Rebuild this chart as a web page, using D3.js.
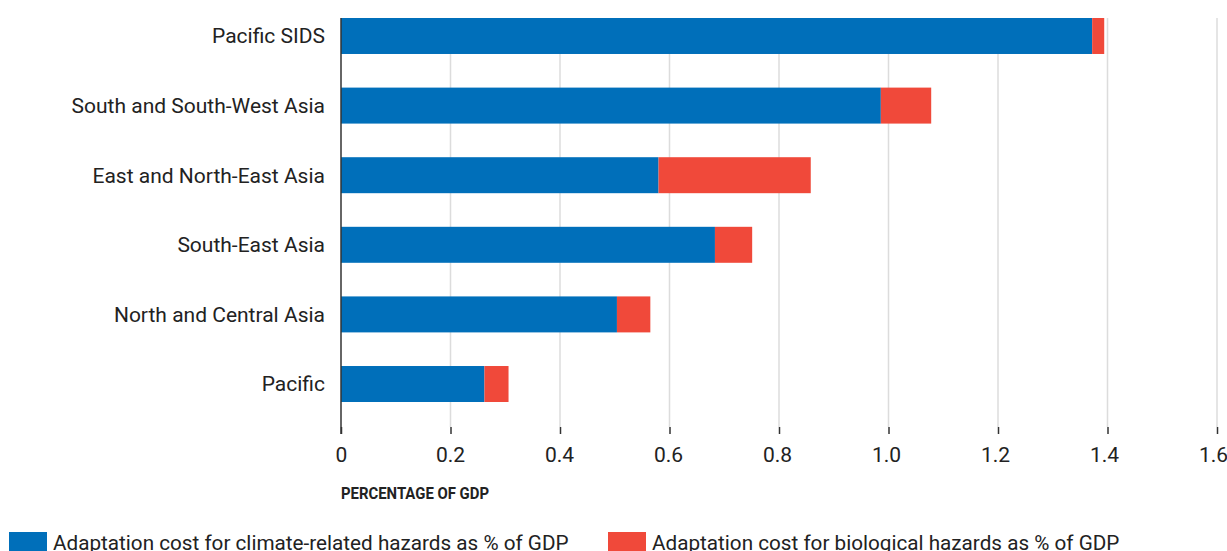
<!DOCTYPE html>
<html>
  <head>
    <meta charset="utf-8" />
    <title>Adaptation cost as % of GDP</title>
    <script src="https://d3js.org/d3.v7.min.js" charset="utf-8"></script>
    <style>
      html,
      body {
        margin: 0;
        padding: 0;
        background: #ffffff;
        font-family: Roboto, Arial, sans-serif;
      }
    </style>
  </head>
  <body>
    <svg id="chart"></svg>
    <script>
      // Data
      const regions = [
        "Pacific SIDS",
        "South and South-West Asia",
        "East and North-East Asia",
        "South-East Asia",
        "North and Central Asia",
        "Pacific",
      ];
      const climateCost = [1.372, 0.986, 0.58, 0.683, 0.504, 0.262];
      const biologicalCost = [0.022, 0.092, 0.278, 0.068, 0.061, 0.044];
      const xTicks = [0, 0.2, 0.4, 0.6, 0.8, 1.0, 1.2, 1.4, 1.6];
      const seriesNames = [
        "Adaptation cost for climate-related hazards as % of GDP",
        "Adaptation cost for biological hazards as % of GDP",
      ];
      const seriesColors = ["#006fba", "#f0493a"];

      const width = 1227;
      const height = 551;

      // plot area
      const plotLeft = 341;
      const plotRight = 1217;
      const plotTop = 18;
      const axisY = 427;

      const svg = d3
        .select("#chart")
        .attr("width", width)
        .attr("height", height);

      const x = d3.scaleLinear().domain([0, 1.6]).range([plotLeft, plotRight]);

      const y = d3
        .scaleBand()
        .domain(regions)
        .range([plotTop, 402])
        .paddingInner(0.483)
        .paddingOuter(0);

      // gridlines
      svg
        .append("g")
        .selectAll("line")
        .data(xTicks.slice(1))
        .join("line")
        .attr("x1", (d) => x(d))
        .attr("x2", (d) => x(d))
        .attr("y1", plotTop)
        .attr("y2", axisY)
        .attr("stroke", "#dcdcdc")
        .attr("stroke-width", 1.5);

      // x axis (ticks + labels)
      const xAxis = d3
        .axisBottom(x)
        .tickValues(xTicks)
        .tickSize(7)
        .tickPadding(13)
        .tickFormat((d) => (d === 0 ? "0" : d3.format(".1f")(d)));

      const gx = svg
        .append("g")
        .attr("transform", `translate(0,${axisY})`)
        .call(xAxis);
      gx.select(".domain").remove();
      gx.selectAll(".tick line").attr("stroke", "#333").attr("stroke-width", 1.5);
      // labels sit a little left of their ticks towards the right end
      gx.selectAll(".tick text")
        .attr("fill", "#222")
        .attr("font-family", "Roboto, sans-serif")
        .attr("font-size", 21)
        .attr("dx", (d) => -d * 2.5);

      // stacked bars
      const rows = regions.map((r, i) => ({
        region: r,
        climate: climateCost[i],
        bio: biologicalCost[i],
      }));

      svg
        .append("g")
        .selectAll("rect")
        .data(rows)
        .join("rect")
        .attr("x", x(0))
        .attr("y", (d) => y(d.region))
        .attr("width", (d) => x(d.climate) - x(0))
        .attr("height", y.bandwidth())
        .attr("fill", seriesColors[0]);

      svg
        .append("g")
        .selectAll("rect")
        .data(rows)
        .join("rect")
        .attr("x", (d) => x(d.climate))
        .attr("y", (d) => y(d.region))
        .attr("width", (d) => x(d.climate + d.bio) - x(d.climate))
        .attr("height", y.bandwidth())
        .attr("fill", seriesColors[1]);

      // vertical axis line at zero
      svg
        .append("line")
        .attr("x1", x(0))
        .attr("x2", x(0))
        .attr("y1", plotTop)
        .attr("y2", axisY + 7)
        .attr("stroke", "#333")
        .attr("stroke-width", 1.5);

      // category labels
      svg
        .append("g")
        .selectAll("text")
        .data(regions)
        .join("text")
        .attr("x", 325)
        .attr("y", (d) => y(d) + y.bandwidth() / 2)
        .attr("dy", "0.35em")
        .attr("text-anchor", "end")
        .attr("font-size", 21)
        .attr("fill", "#222")
        .text((d) => d);

      // axis title (condensed bold look)
      svg
        .append("text")
        .attr("x", plotLeft)
        .attr("y", 499)
        .attr("font-size", 16.5)
        .attr("font-weight", "bold")
        .attr("fill", "#222")
        .attr("textLength", 148)
        .attr("lengthAdjust", "spacingAndGlyphs")
        .text("PERCENTAGE OF GDP");

      // legend
      const legendX = [9, 608];
      const legend = svg
        .append("g")
        .selectAll("g")
        .data(seriesNames)
        .join("g")
        .attr("transform", (d, i) => `translate(${legendX[i]},532)`);

      legend
        .append("rect")
        .attr("width", 38)
        .attr("height", 20)
        .attr("fill", (d, i) => seriesColors[i]);

      legend
        .append("text")
        .attr("x", 44)
        .attr("y", 18)
        .attr("font-size", 20.7)
        .attr("fill", "#222")
        .text((d) => d);
    </script>
  </body>
</html>
